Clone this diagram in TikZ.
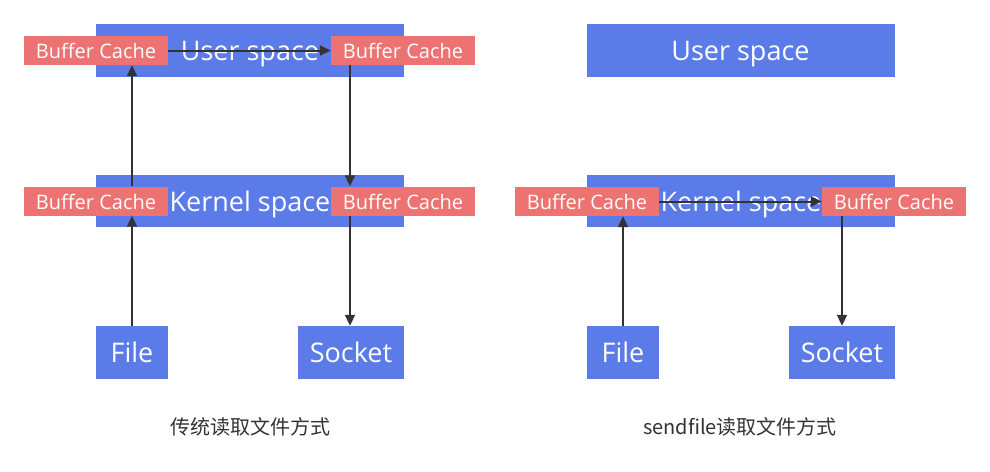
\documentclass[tikz,border=0pt]{standalone}
\usepackage{fontspec}
\setmainfont{Open Sans}
\newfontfamily\cjk{Noto Sans CJK SC}
\usetikzlibrary{arrows.meta}
\definecolor{spaceblue}{HTML}{5B7BE8}
\definecolor{cachered}{HTML}{EC7371}
\definecolor{arrowgray}{HTML}{333333}
\tikzset{
  spacebox/.style={fill=spaceblue, draw=none, text=white, inner sep=0pt, text height=24pt, text depth=4pt, font=\fontsize{27}{30}\selectfont},
  cachebox/.style={fill=cachered, draw=none, text=white, inner sep=0pt, minimum width=144pt, minimum height=29pt, text height=18.5pt, text depth=2.5pt, font=\fontsize{20}{22}\selectfont},
  conn/.style={draw=arrowgray, line width=2pt, -{Triangle[length=11pt,width=10pt]}},
  captiontext/.style={text=arrowgray, font=\cjk\fontsize{20}{22}\selectfont}
}
\begin{document}
\begin{tikzpicture}[x=1pt,y=-1pt]
\useasboundingbox (0,0) rectangle (990,471);
% ---------- left panel ----------
\node[spacebox, minimum width=308pt, minimum height=53pt] (userL) at (250,50.5) {User space};
\node[spacebox, minimum width=308pt, minimum height=52pt] (kernL) at (250,201) {Kernel space};
\node[cachebox] (bcUL) at (96,50.5) {Buffer Cache};
\node[cachebox] (bcUR) at (403,50.5) {Buffer Cache};
\node[cachebox] (bcKL) at (96,201) {Buffer Cache};
\node[cachebox] (bcKR) at (403,201) {Buffer Cache};
\node[spacebox, minimum width=72pt, minimum height=53pt] (fileL) at (132,352.5) {File};
\node[spacebox, minimum width=106pt, minimum height=53pt] (sockL) at (351,352.5) {Socket};
\node[captiontext] (capL) at (250,427) {传统读取文件方式};
\coordinate (xL) at (132,0);
\coordinate (xR) at (350,0);
\draw[conn] (fileL.north) -- (fileL.north |- bcKL.south);
\draw[conn] (xL |- bcKL.north) -- (xL |- bcUL.south);
\draw[conn] (bcUL.east) -- (bcUR.west);
\draw[conn] (xR |- bcUR.south) -- (xR |- bcKR.north);
\draw[conn] (xR |- bcKR.south) -- (xR |- sockL.north);
% ---------- right panel ----------
\node[spacebox, minimum width=308pt, minimum height=53pt] (userR) at (740.5,50.5) {User space};
\node[spacebox, minimum width=308pt, minimum height=52pt] (kernR) at (741,201) {Kernel space};
\node[cachebox] (bcRL) at (587,201.5) {Buffer Cache};
\node[cachebox] (bcRR) at (894,201.5) {Buffer Cache};
\node[spacebox, minimum width=72pt, minimum height=53pt] (fileR) at (623,352.5) {File};
\node[spacebox, minimum width=106pt, minimum height=53pt] (sockR) at (842,352.5) {Socket};
\node[captiontext] (capR) at (740,427) {sendfile读取文件方式};
\coordinate (xR2) at (842,0);
\draw[conn] (fileR.north) -- (fileR.north |- bcRL.south);
\draw[conn] (bcRL.east) -- (bcRR.west);
\draw[conn] (xR2 |- bcRR.south) -- (xR2 |- sockR.north);
\end{tikzpicture}
\end{document}
